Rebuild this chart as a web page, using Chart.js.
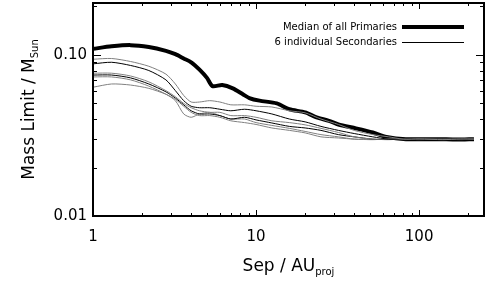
<!DOCTYPE html>
<html>
<head>
<meta charset="utf-8">
<script src="https://cdn.jsdelivr.net/npm/chart.js@4/dist/chart.umd.min.js"></script>
<style>
html,body{margin:0;padding:0;background:#fff;}
#c{display:block;}
</style>
</head>
<body>
<canvas id="c" width="498" height="283"></canvas>
<script>
// ---- data ----
const sepMedian  = [1, 1.3, 1.7, 2.2, 2.8, 3.2, 3.6, 4.0, 4.5, 5.0, 5.4, 6.2, 7.2, 8.3, 9.1, 10.5, 13.4, 16, 20, 23.5, 28, 32, 41, 52, 63, 83, 130, 170, 217];
const massMedian = [0.109, 0.113, 0.115, 0.112, 0.106, 0.101, 0.095, 0.090, 0.081, 0.072, 0.064, 0.065, 0.062, 0.057, 0.054, 0.052, 0.050, 0.046, 0.044, 0.041, 0.039, 0.037, 0.035, 0.033, 0.031, 0.030, 0.030, 0.0298, 0.030];

const sepSec = [1, 1.3, 1.7, 2.2, 2.8, 3.2, 3.6, 4.0, 4.5, 5.2, 6, 7, 8.5, 10, 12.5, 16, 20, 25, 32, 40, 52, 65, 80, 100, 140, 180, 217];
const secA = [0.094, 0.095, 0.091, 0.085, 0.076, 0.066, 0.056, 0.051, 0.051, 0.052, 0.051, 0.049, 0.049, 0.048, 0.0475, 0.045, 0.0437, 0.040, 0.037, 0.034, 0.032, 0.031, 0.030, 0.030, 0.0298, 0.030, 0.030];
const secB = [0.088, 0.090, 0.086, 0.080, 0.070, 0.060, 0.052, 0.048, 0.047, 0.047, 0.046, 0.045, 0.046, 0.045, 0.043, 0.040, 0.0384, 0.036, 0.034, 0.0325, 0.031, 0.030, 0.030, 0.0298, 0.030, 0.0298, 0.030];
const secC = [0.077, 0.077, 0.074, 0.068, 0.060, 0.055, 0.050, 0.047, 0.045, 0.044, 0.044, 0.042, 0.042, 0.041, 0.039, 0.038, 0.0368, 0.035, 0.033, 0.031, 0.030, 0.030, 0.0298, 0.030, 0.030, 0.0298, 0.030];
const secD = [0.075, 0.075, 0.072, 0.066, 0.059, 0.054, 0.049, 0.045, 0.043, 0.043, 0.042, 0.040, 0.041, 0.0395, 0.0378, 0.036, 0.0352, 0.034, 0.032, 0.031, 0.030, 0.0298, 0.030, 0.030, 0.0298, 0.030, 0.030];
const secE = [0.073, 0.073, 0.070, 0.064, 0.057, 0.052, 0.043, 0.041, 0.043, 0.044, 0.042, 0.040, 0.040, 0.038, 0.0365, 0.035, 0.0335, 0.032, 0.031, 0.030, 0.0298, 0.030, 0.030, 0.0298, 0.030, 0.030, 0.030];
const secF = [0.063, 0.066, 0.065, 0.062, 0.057, 0.053, 0.048, 0.044, 0.042, 0.042, 0.041, 0.039, 0.038, 0.037, 0.0352, 0.034, 0.0328, 0.031, 0.0305, 0.030, 0.0298, 0.030, 0.030, 0.030, 0.0298, 0.030, 0.030];
const secondaries = [secA, secB, secC, secD, secE, secF];
const secColors = ['#808080', '#000000', '#808080', '#000000', '#808080', '#808080'];

const xTickLabels = {1: '1', 10: '10', 100: '100'};
const yTickLabels = {'-2': '0.01', '-1': '0.10'};
const legendLabels = ['Median of all Primaries', '6 individual Secondaries'];

const FONT = '"DejaVu Sans", sans-serif';

function pts(xs, ys) { return xs.map((x, i) => ({x: x, y: ys[i]})); }

const datasets = [];
secondaries.forEach((s, i) => {
  datasets.push({data: pts(sepSec, s), borderColor: secColors[i], borderWidth: 1, pointRadius: 0, tension: 0.25, fill: false});
});
datasets.push({data: pts(sepMedian, massMedian), borderColor: '#000', borderWidth: 4, pointRadius: 0, tension: 0.25, fill: false});

const framePlugin = {
  id: 'frame',
  afterDraw(chart) {
    const ctx = chart.ctx, a = chart.chartArea;
    const xs = chart.scales.x, ys = chart.scales.y;
    ctx.save();
    ctx.strokeStyle = '#000';
    ctx.lineWidth = 2;
    ctx.strokeRect(a.left, a.top, a.right - a.left, a.bottom - a.top);
    ctx.lineWidth = 1;
    // x ticks
    for (let d = 1; d <= 100; d *= 10) {
      for (let m = 1; m <= 9; m++) {
        const v = d * m;
        if (v > xs.max) continue;
        const px = Math.round(xs.getPixelForValue(v)) + 0.5;
        const len = m === 1 ? 6 : 3;
        ctx.beginPath();
        ctx.moveTo(px, a.bottom); ctx.lineTo(px, a.bottom - len);
        ctx.moveTo(px, a.top); ctx.lineTo(px, a.top + len);
        ctx.stroke();
      }
    }
    // y ticks
    for (let d = 0.01; d <= 0.1 + 1e-9; d *= 10) {
      for (let m = 1; m <= 9; m++) {
        const v = d * m;
        if (v > ys.max) continue;
        const py = Math.round(ys.getPixelForValue(v)) + 0.5;
        const len = m === 1 ? 8 : 4;
        ctx.beginPath();
        ctx.moveTo(a.left, py); ctx.lineTo(a.left + len, py);
        ctx.moveTo(a.right, py); ctx.lineTo(a.right - len, py);
        ctx.stroke();
      }
    }
    // axis titles
    ctx.fillStyle = '#000';
    ctx.textBaseline = 'alphabetic';
    const mainF = '17px ' + FONT, subF = '10px ' + FONT;
    ctx.font = mainF;
    const xt = 'Sep / AU';
    const w1 = ctx.measureText(xt).width;
    ctx.font = subF;
    const ws = ctx.measureText('proj').width;
    let x0 = (a.left + a.right) / 2 - (w1 + ws) / 2;
    const yb = 271;
    ctx.font = mainF; ctx.textAlign = 'left';
    ctx.fillText(xt, x0, yb);
    ctx.font = subF;
    ctx.fillText('proj', x0 + w1, yb + 4);
    // y title (rotated)
    ctx.save();
    ctx.translate(34, (a.top + a.bottom) / 2);
    ctx.rotate(-Math.PI / 2);
    ctx.font = mainF;
    const yt = 'Mass Limit / M';
    const w2 = ctx.measureText(yt).width;
    ctx.font = subF;
    const ws2 = ctx.measureText('Sun').width;
    const sx = -(w2 + ws2) / 2;
    ctx.font = mainF;
    ctx.fillText(yt, sx, 0);
    ctx.font = subF;
    ctx.fillText('Sun', sx + w2, 4);
    ctx.restore();
    // legend
    ctx.font = '10px ' + FONT;
    ctx.textAlign = 'right';
    ctx.textBaseline = 'middle';
    const lx = 397, ly = [27, 42];
    ctx.fillText(legendLabels[0], lx, ly[0]);
    ctx.fillText(legendLabels[1], lx, ly[1]);
    ctx.lineWidth = 4;
    ctx.beginPath(); ctx.moveTo(402, ly[0]); ctx.lineTo(464, ly[0]); ctx.stroke();
    ctx.lineWidth = 1;
    ctx.beginPath(); ctx.moveTo(402, ly[1] + 0.5); ctx.lineTo(464, ly[1] + 0.5); ctx.stroke();
    ctx.restore();
  }
};

new Chart(document.getElementById('c'), {
  type: 'line',
  data: {datasets: datasets},
  options: {
    responsive: false,
    animation: false,
    devicePixelRatio: 1,
    layout: {padding: {left: 0, top: 3, right: 14, bottom: 0}},
    plugins: {legend: {display: false}, tooltip: {enabled: false}},
    scales: {
      x: {
        type: 'logarithmic', min: 1, max: 250,
        grid: {display: false, drawTicks: false},
        border: {display: false},
        ticks: {
          autoSkip: false, maxRotation: 0, padding: 12, color: '#000',
          font: {family: FONT, size: 15},
          callback: (v) => { const k = Math.round(v); return (Math.abs(v - k) < 1e-6 && xTickLabels[k]) ? xTickLabels[k] : ''; }
        },
        afterFit: (s) => { s.height = 67; s.paddingLeft = 0; s.paddingRight = 0; }
      },
      y: {
        type: 'logarithmic', min: 0.01, max: 0.21,
        grid: {display: false, drawTicks: false},
        border: {display: false},
        ticks: {
          autoSkip: false, padding: 6, color: '#000',
          font: {family: FONT, size: 15},
          callback: (v) => { const l = Math.log10(v); const k = Math.round(l); return (Math.abs(l - k) < 1e-6 && yTickLabels[k]) ? yTickLabels[k] : ''; }
        },
        afterFit: (s) => { s.width = 93; s.paddingTop = 0; s.paddingBottom = 0; }
      }
    }
  },
  plugins: [framePlugin]
});
</script>
</body>
</html>
